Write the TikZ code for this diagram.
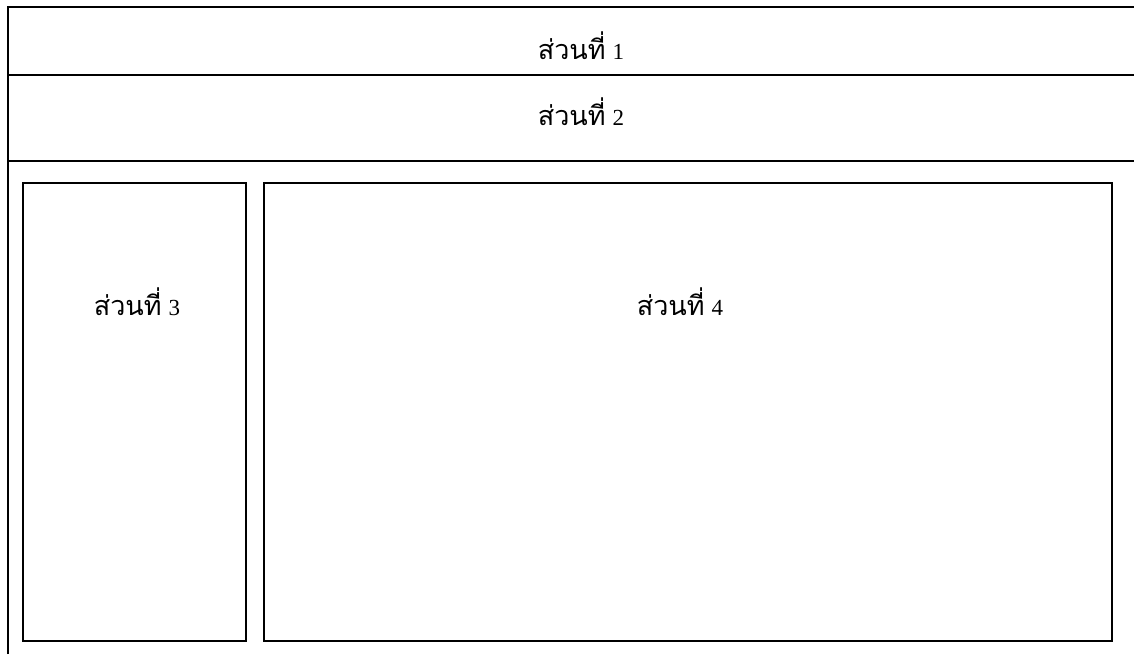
\documentclass[tikz,border=0pt]{standalone}
\usepackage{fontspec}
\setmainfont{Liberation Serif}
\newfontfamily\thaifont[Script=Thai]{Loma}
\newcommand{\thlabel}[1]{{\fontsize{27}{32}\thaifont ส่วนที่}\hspace{7pt}{\fontsize{23}{27}\selectfont #1}}
\begin{document}
\begin{tikzpicture}[x=1pt,y=-1pt,
  frameline/.style={line width=1.4pt,draw=black},
  panel/.style={line width=1.4pt,draw=black,fill=none},
  lbl/.style={anchor=base,inner sep=0pt}]
\useasboundingbox (0,0) rectangle (1134,654);
\fill[white] (0,0) rectangle (1134,654);
% frame lines
\coordinate (tl) at (8,7);
\coordinate (tr) at (1134,7);
\coordinate (bl) at (8,654);
\coordinate (l1) at (8,75);
\coordinate (r1) at (1134,75);
\coordinate (l2) at (8,161);
\coordinate (r2) at (1134,161);
\draw[frameline] (bl) -- (tl) -- (tr);
\draw[frameline] (l1) -- (r1);
\draw[frameline] (l2) -- (r2);
% panels
\draw[panel] (23,183) rectangle (246,641);
\draw[panel] (264,183) rectangle (1112,641);
% labels
\node[lbl] (p1) at (581,59) {\thlabel{1}};
\node[lbl] (p2) at (581,125) {\thlabel{2}};
\node[lbl] (p3) at (137,315) {\thlabel{3}};
\node[lbl] (p4) at (680,315) {\thlabel{4}};
\end{tikzpicture}
\end{document}
